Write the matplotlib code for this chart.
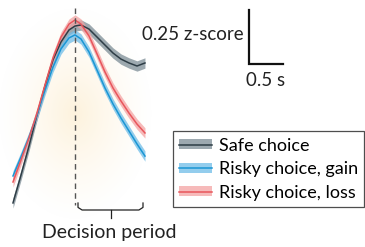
import numpy as np
import matplotlib
matplotlib.use("Agg")
import matplotlib.pyplot as plt
from matplotlib.patches import Patch
from matplotlib.lines import Line2D

# time relative to decision onset (s)
time_s = [-0.912, -0.794, -0.676, -0.559, -0.441, -0.324, -0.206, -0.088, 0.0,
          0.088, 0.206, 0.324, 0.441, 0.559, 0.676, 0.794, 0.912, 1.029]

# mean activity (z-score)
safe = [-0.384, -0.255, -0.120, 0.023, 0.157, 0.278, 0.361, 0.417, 0.435,
        0.440, 0.421, 0.384, 0.347, 0.310, 0.282, 0.264, 0.250, 0.264]
risky_gain = [-0.259, -0.171, -0.079, 0.023, 0.139, 0.245, 0.329, 0.380, 0.394,
              0.375, 0.315, 0.231, 0.148, 0.074, 0.009, -0.051, -0.111, -0.167]
risky_loss = [-0.287, -0.185, -0.083, 0.032, 0.162, 0.287, 0.384, 0.444, 0.463,
              0.444, 0.389, 0.306, 0.222, 0.148, 0.088, 0.032, -0.019, -0.060]

sem = 0.024
labels = ["Safe choice", "Risky choice, gain", "Risky choice, loss"]
line_colors = ["#2e3d46", "#1a96d4", "#e8565c"]
band_colors = ["#7d8d96", "#6fbde8", "#f4a3a3"]

FONT = ["Lato", "DejaVu Sans"]

fig = plt.figure(figsize=(3.65, 2.47), dpi=100)
ax = fig.add_axes([0, 0, 1, 1])
ax.axis("off")

# pixel -> data mapping: 68 px per s, 216 px per z-score
x0, x1 = -75 / 68, 290 / 68
y0, y1 = (120 - 247) / 216, 120 / 216
ax.set_xlim(x0, x1)
ax.set_ylim(y0, y1)

# soft glow behind the decision period
gx = np.linspace(x0, x1, 400)
gy = np.linspace(y0, y1, 300)
GX, GY = np.meshgrid(gx, gy)
r = np.sqrt((GX / 1.15) ** 2 + ((GY - 0.03) / 0.50) ** 2)
alpha = np.clip(1 - r, 0, 1) ** 1.3 * 0.55
img = np.zeros(GX.shape + (4,))
img[..., 0] = 0.99
img[..., 1] = 0.91
img[..., 2] = 0.76
img[..., 3] = alpha
ax.imshow(img, extent=(x0, x1, y0, y1), origin="lower", aspect="auto", zorder=0)

series = [safe, risky_gain, risky_loss]
t = np.array(time_s)
for vals, lc, bc in zip(series, line_colors, band_colors):
    v = np.array(vals)
    ax.fill_between(t, v - sem, v + sem, color=bc, alpha=0.75, lw=0, zorder=2)
    ax.plot(t, v, color=lc, lw=1.1, zorder=3)

# decision onset
ax.plot([0, 0], [(120 - 8) / 216, (120 - 205) / 216], color="#555555",
        lw=1.0, ls=(0, (4, 3)), zorder=4)

# bracket for decision period
bx0, bx1 = 78 / 68 - 75 / 68, 143 / 68 - 75 / 68
by_top, by_bot = (120 - 203) / 216, (120 - 210) / 216
bmid = (bx0 + bx1) / 2
ax.plot([bx0, bx0, bx0 + 0.06, bx1 - 0.06, bx1, bx1],
        [by_top, by_bot + 0.012, by_bot, by_bot, by_bot + 0.012, by_top],
        color="#222222", lw=0.9)
ax.plot([bmid, bmid], [by_bot, (120 - 218) / 216], color="#222222", lw=0.9)
ax.text((109 - 75) / 68, (120 - 232) / 216, "Decision period", ha="center",
        va="center", fontsize=14, family=FONT, color="#222222")

# scale bar
sx = (249 - 75) / 68
sy = (120 - 64) / 216
ax.plot([sx, sx, sx + 0.5], [sy + 0.25, sy, sy], color="#111111", lw=1.6,
        solid_joinstyle="miter")
ax.text(sx - 0.08, (120 - 34) / 216, "0.25 z-score", ha="right", va="center",
        fontsize=13.5, family=FONT, color="#222222")
ax.text(sx + 0.25, (120 - 80) / 216, "0.5 s", ha="center", va="center",
        fontsize=13.5, family=FONT, color="#222222")

handles = [(Patch(facecolor=bc, alpha=0.75, lw=0), Line2D([], [], color=lc, lw=1.1))
           for lc, bc in zip(line_colors, band_colors)]
leg = fig.legend(handles, labels, loc="lower right", bbox_to_anchor=(0.998, 40 / 247),
                 prop={"family": FONT, "size": 13}, frameon=True, fancybox=False,
                 edgecolor="#222222", handlelength=1.8, handleheight=0.5,
                 borderpad=0.35, labelspacing=0.42, handletextpad=0.4,
                 borderaxespad=0.0)
leg.get_frame().set_linewidth(0.9)

fig.savefig("out.png", dpi=100)
